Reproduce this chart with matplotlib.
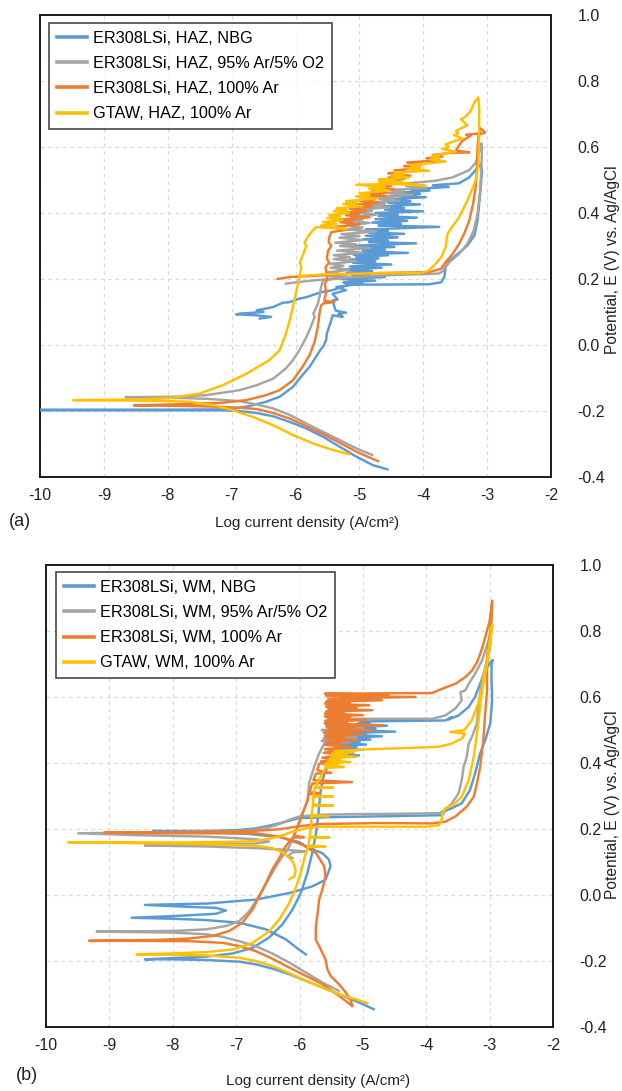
import matplotlib
matplotlib.use("Agg")
import matplotlib.pyplot as plt
from matplotlib.lines import Line2D
from matplotlib.ticker import FixedLocator, FormatStrFormatter

plt.rcParams['font.family'] = ['Liberation Sans', 'DejaVu Sans']
plt.rcParams['axes.unicode_minus'] = False

# ---- polarization scans: (log current density [A/cm2], potential [V vs Ag/AgCl]) ----
# (a) heat affected zone
haz_nbg = [(-4.56,-0.377),(-4.79,-0.364),(-5.05,-0.338),(-5.31,-0.308),(-5.57,-0.278),(-5.83,-0.253),(-6.09,-0.233),(-6.35,-0.216),(-6.61,-0.206),(-6.88,-0.200),(-7.14,-0.198),(-8.5,-0.198),(-10.0,-0.198),
    (-10.0,-0.196),(-8.0,-0.196),(-7.08,-0.195),(-6.77,-0.187),(-6.46,-0.172),(-6.25,-0.157),(-6.04,-0.127),(-5.89,-0.091),(-5.78,-0.066),(-5.68,-0.036),(-5.60,-0.012),(-5.57,-0.006),(-5.52,0.015),(-5.51,0.034),(-5.44,0.075),(-5.42,0.090),(-5.26,0.085),(-5.33,0.094),(-5.21,0.098),(-5.37,0.104),(-5.39,0.115),(-5.42,0.135),(-5.34,0.138),(-5.42,0.155),(-5.21,0.166),(-5.36,0.176),
    (-4.95,0.186),(-5.25,0.190),(-4.75,0.195),(-5.30,0.200),(-4.60,0.206),(-5.10,0.210),(-4.85,0.214),(-5.20,0.219),(-4.80,0.224),(-5.25,0.229),(-4.65,0.234),(-5.15,0.238),(-4.50,0.244),(-5.10,0.249),(-4.75,0.254),(-5.15,0.259),(-4.70,0.263),(-5.05,0.267),(-4.55,0.272),(-5.10,0.275),(-4.24,0.279),(-4.95,0.284),(-4.60,0.288),(-5.00,0.292),(-4.45,0.297),(-5.05,0.301),(-4.11,0.308),(-4.85,0.312),(-4.55,0.316),(-4.95,0.320),(-4.40,0.326),(-4.90,0.331),(-4.30,0.337),(-4.85,0.341),(-4.55,0.346),(-4.90,0.350),(-3.75,0.358),(-4.70,0.362),(-4.35,0.367),(-4.80,0.371),(-4.25,0.376),(-4.75,0.381),(-4.10,0.386),(-4.70,0.391),(-4.40,0.396),(-4.75,0.400),(-4.00,0.405),(-4.60,0.410),(-4.30,0.415),(-4.65,0.420),(-4.05,0.426),(-4.55,0.431),(-4.20,0.436),(-4.55,0.441),(-3.96,0.448),(-4.45,0.452),(-4.05,0.458),(-4.35,0.462),(-3.90,0.468),(-4.20,0.472),(-3.60,0.479),(-3.85,0.484),(-3.44,0.490),(-3.28,0.508),(-3.18,0.53),(-3.10,0.548),
    (-3.08,0.528),(-3.10,0.478),(-3.125,0.427),(-3.15,0.377),(-3.20,0.332),(-3.31,0.301),(-3.46,0.276),(-3.59,0.256),(-3.65,0.236),(-3.67,0.206),(-3.72,0.19),(-3.91,0.184),(-4.69,0.183),(-5.16,0.183),(-5.42,0.166),(-5.60,0.160),(-5.83,0.145),(-5.95,0.140),(-6.09,0.13),(-6.20,0.128),(-6.35,0.115),(-6.61,0.105),(-6.50,0.100),(-6.88,0.095),(-6.93,0.093),(-6.61,0.09),(-6.38,0.085),(-6.56,0.08)]

haz_o2 = [(-4.80,-0.333),(-5.05,-0.313),(-5.31,-0.288),(-5.57,-0.263),(-5.83,-0.238),(-6.09,-0.212),(-6.35,-0.192),(-6.61,-0.180),(-6.88,-0.170),(-7.40,-0.163),(-7.92,-0.160),(-8.66,-0.158),
    (-7.92,-0.157),(-7.40,-0.152),(-6.88,-0.137),(-6.61,-0.122),(-6.35,-0.102),(-6.15,-0.071),(-6.04,-0.046),(-5.94,-0.016),(-5.83,0.024),(-5.76,0.055),(-5.70,0.085),(-5.72,0.095),(-5.65,0.125),(-5.62,0.15),(-5.60,0.175),(-5.57,0.196),
    (-5.21,0.204),(-5.47,0.210),(-5.30,0.215),(-5.50,0.220),(-5.16,0.228),(-5.45,0.234),(-5.25,0.240),(-5.45,0.246),(-5.05,0.254),(-5.40,0.260),(-5.15,0.266),(-5.40,0.272),(-4.95,0.280),(-5.35,0.286),(-4.84,0.294),(-5.30,0.300),(-5.05,0.305),(-5.38,0.310),(-4.95,0.318),(-5.31,0.325),(-5.00,0.330),(-5.28,0.336),(-4.74,0.344),(-5.21,0.350),(-4.95,0.356),(-5.20,0.362),(-4.84,0.370),(-5.16,0.376),(-4.95,0.381),(-5.12,0.387),(-4.74,0.395),(-5.05,0.401),(-4.80,0.406),(-5.00,0.411),(-4.53,0.417),(-4.90,0.423),(-4.60,0.428),(-4.85,0.432),(-4.375,0.437),(-4.69,0.443),(-4.45,0.447),(-4.65,0.451),(-4.17,0.455),(-4.53,0.461),(-4.30,0.466),(-4.50,0.470),(-3.96,0.476),(-4.27,0.482),(-4.10,0.487),(-4.25,0.490),(-4.01,0.494),
    (-3.80,0.498),(-3.54,0.508),(-3.28,0.53),(-3.18,0.552),(-3.125,0.585),(-3.09,0.611),
    (-3.08,0.599),(-3.09,0.538),(-3.11,0.468),(-3.15,0.397),(-3.21,0.347),(-3.31,0.306),(-3.44,0.276),(-3.59,0.251),(-3.66,0.236),(-3.69,0.224),(-3.75,0.217),(-3.91,0.215),(-4.50,0.212),(-5.00,0.207),(-5.50,0.200),(-5.90,0.192),(-6.15,0.186)]

haz_ar = [(-4.71,-0.352),(-5.05,-0.323),(-5.31,-0.296),(-5.57,-0.270),(-5.83,-0.246),(-6.09,-0.223),(-6.35,-0.206),(-6.61,-0.194),(-6.88,-0.190),(-7.40,-0.186),(-8.00,-0.184),(-8.53,-0.183),
    (-7.92,-0.180),(-7.14,-0.175),(-6.77,-0.167),(-6.46,-0.152),(-6.25,-0.137),(-6.04,-0.107),(-5.89,-0.066),(-5.78,-0.031),(-5.70,0.010),(-5.65,0.055),(-5.625,0.095),(-5.60,0.120),(-5.56,0.126),(-5.39,0.130),(-5.55,0.134),(-5.52,0.160),(-5.54,0.185),(-5.50,0.200),(-5.53,0.236),(-5.47,0.250),(-5.51,0.262),(-5.49,0.286),(-5.44,0.300),(-5.48,0.312),(-5.47,0.327),(-5.44,0.342),(-5.21,0.349),(-5.42,0.357),
    (-5.00,0.366),(-5.30,0.372),(-5.10,0.376),(-5.32,0.380),(-4.84,0.387),(-5.21,0.393),(-5.00,0.398),(-5.20,0.402),(-4.90,0.407),(-5.15,0.413),(-4.80,0.420),(-5.05,0.426),(-4.70,0.432),(-5.00,0.437),(-4.75,0.442),(-4.95,0.446),(-4.60,0.452),(-4.85,0.457),(-4.55,0.462),(-4.80,0.467),(-4.45,0.472),(-4.75,0.478),(-4.50,0.483),(-4.70,0.487),(-4.35,0.492),(-4.60,0.498),(-4.30,0.503),(-4.55,0.507),(-4.20,0.513),(-4.55,0.520),(-4.30,0.525),(-4.45,0.529),(-4.06,0.536),(-4.30,0.542),(-4.00,0.548),(-4.25,0.553),(-3.75,0.560),(-3.95,0.566),(-3.70,0.571),(-3.85,0.576),(-3.57,0.582),(-3.28,0.584),(-3.49,0.589),(-3.39,0.619),(-3.26,0.634),(-3.33,0.637),(-3.125,0.641),(-3.10,0.656),(-3.03,0.644),(-3.135,0.637),
    (-3.15,0.599),(-3.16,0.538),(-3.18,0.478),(-3.22,0.427),(-3.28,0.377),(-3.36,0.337),(-3.44,0.306),(-3.54,0.276),(-3.65,0.251),(-3.72,0.231),(-3.91,0.221),(-4.69,0.218),(-5.57,0.211),(-6.09,0.206),(-6.28,0.200)]

haz_gtaw = [(-5.16,-0.331),(-5.42,-0.318),(-5.73,-0.298),(-6.04,-0.273),(-6.35,-0.243),(-6.67,-0.218),(-6.98,-0.198),(-7.29,-0.182),(-7.66,-0.172),(-8.18,-0.169),(-9.48,-0.167),
    (-8.44,-0.165),(-7.92,-0.160),(-7.50,-0.147),(-7.14,-0.122),(-6.77,-0.087),(-6.41,-0.046),(-6.25,-0.016),(-6.15,0.034),(-6.09,0.075),(-6.04,0.115),(-6.02,0.135),(-5.96,0.186),(-5.91,0.236),(-5.93,0.25),(-5.86,0.286),(-5.83,0.30),(-5.86,0.31),(-5.81,0.327),(-5.73,0.347),(-5.68,0.357),
    (-5.21,0.352),(-5.60,0.362),(-5.35,0.367),(-5.57,0.372),(-5.26,0.379),(-5.50,0.385),(-5.30,0.390),(-5.47,0.394),(-5.16,0.400),(-5.40,0.406),(-5.20,0.410),(-5.36,0.414),(-4.95,0.421),(-5.25,0.427),(-5.05,0.432),(-5.21,0.436),(-4.74,0.444),(-5.05,0.450),(-4.85,0.455),(-5.00,0.460),(-4.53,0.468),(-4.85,0.474),(-4.60,0.479),(-5.05,0.486),(-4.22,0.488),(-4.69,0.493),(-3.96,0.482),(-4.50,0.497),(-4.70,0.501),(-4.22,0.508),(-4.50,0.514),(-4.30,0.519),(-4.45,0.523),(-3.91,0.528),(-4.25,0.535),(-4.05,0.540),(-4.20,0.545),(-3.65,0.556),(-3.90,0.563),(-3.75,0.568),(-3.85,0.574),(-3.49,0.586),(-3.70,0.594),(-3.60,0.600),(-3.65,0.608),(-3.39,0.626),(-3.52,0.636),(-3.45,0.642),(-3.49,0.649),(-3.31,0.666),(-3.41,0.684),(-3.35,0.690),(-3.26,0.708),(-3.20,0.735),(-3.14,0.750),
    (-3.125,0.720),(-3.125,0.649),(-3.135,0.548),(-3.18,0.498),(-3.31,0.437),(-3.44,0.387),(-3.57,0.352),(-3.62,0.337),(-3.65,0.296),(-3.72,0.266),(-3.83,0.241),(-3.93,0.224),(-4.06,0.218),(-4.69,0.218),(-5.05,0.216),(-5.57,0.214),(-5.94,0.209)]

# (b) weld metal
wm_nbg = [(-4.83,-0.346),(-5.115,-0.321),(-5.38,-0.300),(-5.64,-0.280),(-5.90,-0.260),(-6.16,-0.240),(-6.43,-0.223),(-6.69,-0.210),(-6.95,-0.202),(-7.47,-0.197),(-8.00,-0.195),(-8.44,-0.195),
    (-8.00,-0.191),(-7.47,-0.187),(-7.05,-0.177),(-6.74,-0.160),(-6.48,-0.129),(-6.27,-0.089),(-6.11,-0.044),(-5.98,0.006),(-5.875,0.067),(-5.80,0.127),(-5.74,0.187),(-5.70,0.248),(-5.68,0.288),(-5.665,0.318),(-5.61,0.368),(-5.53,0.398),(-5.43,0.419),
    (-5.06,0.423),(-5.45,0.428),(-5.15,0.432),(-5.42,0.436),(-5.00,0.440),(-5.40,0.445),(-5.10,0.449),(-5.38,0.452),(-4.95,0.456),(-5.35,0.460),(-5.05,0.464),(-5.32,0.467),(-4.88,0.471),(-5.30,0.476),(-4.70,0.481),(-5.25,0.486),(-4.95,0.489),(-5.22,0.491),(-4.49,0.495),(-5.20,0.500),(-4.80,0.504),(-5.15,0.508),(-4.62,0.513),(-5.10,0.518),(-4.90,0.521),(-5.05,0.523),(-4.96,0.526),
    (-3.70,0.529),(-3.595,0.539),(-3.65,0.532),(-3.49,0.544),(-3.33,0.570),(-3.23,0.600),(-3.15,0.640),(-3.07,0.680),(-2.99,0.705),(-2.95,0.712),(-2.97,0.700),
    (-2.97,0.650),(-2.96,0.590),(-2.99,0.520),(-3.07,0.469),(-3.15,0.429),(-3.23,0.368),(-3.31,0.318),(-3.44,0.278),(-3.595,0.263),(-3.70,0.255),(-3.75,0.242),(-4.50,0.239),(-5.50,0.236),(-6.01,0.233),(-6.22,0.222),(-6.43,0.212),(-6.69,0.202),(-6.95,0.197),(-7.47,0.194),(-8.31,0.194),
    (-7.50,0.190),(-6.80,0.185),(-6.30,0.175),(-6.00,0.160),(-5.85,0.142),(-5.64,0.127),(-5.535,0.107),(-5.51,0.087),(-5.59,0.046),(-5.80,0.026),(-6.16,0.006),(-6.69,-0.014),(-7.47,-0.026),(-8.44,-0.030),
    (-7.74,-0.036),(-7.32,-0.039),(-7.16,-0.047),(-7.32,-0.057),(-8.00,-0.064),(-8.65,-0.069),
    (-8.00,-0.072),(-7.47,-0.076),(-6.95,-0.084),(-6.53,-0.104),(-6.22,-0.134),(-6.01,-0.165),(-5.90,-0.180)]

wm_o2 = [(-5.38,-0.290),(-5.64,-0.265),(-5.90,-0.235),(-6.16,-0.205),(-6.43,-0.177),(-6.69,-0.155),(-6.95,-0.140),(-7.21,-0.127),(-7.47,-0.119),(-8.00,-0.114),(-9.20,-0.111),
    (-8.00,-0.109),(-7.47,-0.104),(-7.16,-0.094),(-6.95,-0.079),(-6.79,-0.049),(-6.69,-0.019),(-6.58,0.016),(-6.48,0.051),(-6.37,0.087),(-6.27,0.117),(-6.19,0.137),(-6.11,0.167),(-6.03,0.207),(-5.95,0.248),(-5.87,0.288),(-5.85,0.338),(-5.77,0.388),(-5.69,0.429),(-5.61,0.459),
    (-5.20,0.463),(-5.65,0.467),(-5.35,0.471),(-5.62,0.474),(-5.10,0.478),(-5.60,0.483),(-5.30,0.488),(-5.62,0.492),(-5.25,0.496),(-5.65,0.500),(-5.00,0.505),(-5.55,0.510),(-5.25,0.515),(-5.60,0.520),(-5.35,0.524),(-5.60,0.528),(-5.48,0.534),
    (-3.91,0.534),(-3.70,0.544),(-3.54,0.565),(-3.44,0.590),(-3.46,0.615),(-3.385,0.620),(-3.33,0.640),(-3.23,0.670),(-3.12,0.710),(-3.07,0.740),(-3.00,0.780),(-2.97,0.820),
    (-3.00,0.746),(-3.12,0.650),(-3.18,0.570),(-3.20,0.520),(-3.28,0.479),(-3.33,0.459),(-3.36,0.419),(-3.41,0.389),(-3.44,0.348),(-3.49,0.308),(-3.595,0.278),(-3.70,0.258),(-3.80,0.248),(-4.50,0.246),(-5.20,0.245),(-5.69,0.243),(-6.00,0.238),(-6.16,0.228),(-6.32,0.215),(-6.48,0.205),(-6.845,0.195),(-7.37,0.192),(-7.89,0.191),(-9.49,0.187),
    (-8.52,0.181),(-7.47,0.177),(-6.69,0.169),(-6.48,0.162),(-6.70,0.156),(-7.50,0.152),(-8.44,0.150),(-7.47,0.147),(-6.69,0.142),(-6.22,0.137),(-5.90,0.132),(-6.11,0.129),(-6.19,0.117),(-6.11,0.112)]

wm_ar = [(-5.17,-0.336),(-5.38,-0.305),(-5.64,-0.270),(-5.90,-0.245),(-6.16,-0.220),(-6.43,-0.193),(-6.69,-0.170),(-6.95,-0.155),(-7.21,-0.145),(-7.74,-0.140),(-8.50,-0.139),(-9.32,-0.139),
    (-8.26,-0.136),(-7.74,-0.132),(-7.37,-0.124),(-7.11,-0.109),(-6.90,-0.084),(-6.74,-0.044),(-6.635,-0.004),(-6.53,0.036),(-6.43,0.077),(-6.32,0.112),(-6.22,0.147),(-6.11,0.174),(-5.93,0.175),(-6.09,0.180),(-6.01,0.218),(-5.93,0.258),(-5.87,0.288),(-5.86,0.305),(-5.69,0.308),(-5.84,0.312),(-5.80,0.338),(-5.17,0.342),(-5.78,0.348),(-5.74,0.368),(-5.50,0.370),(-5.72,0.378),(-5.69,0.398),
    (-5.45,0.400),(-5.66,0.405),(-5.40,0.410),(-5.64,0.416),(-5.30,0.425),(-5.62,0.431),(-5.40,0.437),(-5.60,0.442),(-5.20,0.449),(-5.60,0.455),(-5.35,0.460),(-5.58,0.464),(-5.10,0.469),(-5.58,0.475),(-5.30,0.479),(-5.60,0.482),(-5.00,0.486),(-5.60,0.490),(-5.20,0.494),(-5.58,0.496),(-4.85,0.499),(-5.55,0.505),(-5.15,0.509),(-5.58,0.511),(-4.70,0.514),(-5.60,0.520),(-5.25,0.524),(-5.58,0.526),(-4.95,0.530),(-5.55,0.535),(-5.20,0.539),(-5.60,0.541),(-5.00,0.545),(-5.60,0.550),(-5.30,0.554),(-5.58,0.556),(-4.85,0.560),(-5.55,0.565),(-5.10,0.569),(-5.58,0.571),(-4.90,0.575),(-5.60,0.580),(-5.20,0.584),(-5.58,0.586),(-4.70,0.590),(-5.55,0.595),(-4.17,0.600),(-5.58,0.604),(-4.60,0.607),(-5.60,0.610),
    (-3.91,0.612),(-3.75,0.625),(-3.54,0.640),(-3.385,0.660),(-3.28,0.680),(-3.20,0.705),(-3.15,0.730),(-3.10,0.760),(-3.00,0.830),(-2.96,0.892),
    (-2.97,0.832),(-3.04,0.724),(-3.04,0.620),(-3.07,0.550),(-3.10,0.469),(-3.15,0.388),(-3.20,0.338),(-3.25,0.298),(-3.36,0.268),(-3.54,0.238),(-3.70,0.222),(-3.91,0.217),(-4.75,0.218),(-5.69,0.215),(-6.06,0.207),(-6.32,0.199),(-6.845,0.193),(-7.89,0.190),(-9.07,0.190),
    (-8.52,0.187),(-6.69,0.187),(-6.32,0.177),(-5.95,0.152),(-5.74,0.127),(-5.61,0.087),(-5.59,0.056),(-5.64,0.016),(-5.69,-0.014),(-5.72,-0.064),(-5.74,-0.094),(-5.745,-0.135),(-5.69,-0.155),(-5.64,-0.175),(-5.59,-0.195),(-5.56,-0.225),(-5.51,-0.245),(-5.38,-0.270),(-5.27,-0.295),(-5.19,-0.320),(-5.17,-0.336)]

wm_gtaw = [(-4.93,-0.328),(-5.115,-0.316),(-5.38,-0.300),(-5.64,-0.280),(-5.90,-0.260),(-6.16,-0.237),(-6.43,-0.215),(-6.69,-0.200),(-6.95,-0.190),(-7.47,-0.183),(-8.00,-0.181),(-8.57,-0.180),
    (-8.00,-0.177),(-7.47,-0.173),(-7.05,-0.165),(-6.74,-0.145),(-6.48,-0.110),(-6.32,-0.074),(-6.16,-0.024),(-6.06,0.021),(-5.98,0.067),(-5.93,0.107),(-5.875,0.140),(-5.86,0.146),(-5.59,0.147),(-5.86,0.150),(-5.84,0.173),(-5.53,0.174),(-5.84,0.177),(-5.82,0.205),(-5.81,0.238),(-5.54,0.239),(-5.81,0.242),(-5.79,0.270),(-5.47,0.271),(-5.79,0.274),(-5.78,0.297),(-5.47,0.298),(-5.78,0.301),(-5.76,0.324),(-5.47,0.325),(-5.75,0.328),(-5.69,0.350),(-5.64,0.368),(-5.59,0.385),
    (-5.30,0.388),(-5.60,0.392),(-5.40,0.396),(-5.58,0.399),(-5.20,0.403),(-5.55,0.408),(-5.35,0.412),(-5.52,0.415),(-5.10,0.419),(-5.50,0.424),(-5.25,0.427),(-5.48,0.430),(-5.15,0.433),(-5.45,0.436),(-4.96,0.441),
    (-3.80,0.449),(-3.595,0.459),(-3.44,0.474),(-3.385,0.489),(-3.62,0.494),(-3.40,0.500),(-3.28,0.530),(-3.18,0.580),(-3.10,0.640),(-3.04,0.700),(-2.99,0.760),(-2.96,0.820),
    (-3.00,0.770),(-3.04,0.710),(-3.10,0.650),(-3.15,0.570),(-3.20,0.489),(-3.25,0.419),(-3.33,0.348),(-3.44,0.298),(-3.57,0.273),(-3.70,0.263),(-3.75,0.243),(-3.76,0.222),(-3.80,0.212),(-4.00,0.207),(-5.00,0.207),(-5.69,0.207),(-5.90,0.202),(-6.11,0.192),(-6.32,0.177),(-6.58,0.167),(-6.845,0.162),(-7.89,0.159),(-9.65,0.160),
    (-8.52,0.157),(-7.47,0.154),(-6.69,0.149),(-6.43,0.142),(-6.24,0.127),(-6.11,0.102),(-6.06,0.077),(-6.08,0.057),(-6.16,0.047)]

labels_a = ["ER308LSi, HAZ, NBG", "ER308LSi, HAZ, 95% Ar/5% O2", "ER308LSi, HAZ, 100% Ar", "GTAW, HAZ, 100% Ar"]
labels_b = ["ER308LSi, WM, NBG", "ER308LSi, WM, 95% Ar/5% O2", "ER308LSi, WM, 100% Ar", "GTAW, WM, 100% Ar"]
colors = ["#5B9BD5", "#A5A5A5", "#ED7D31", "#FFC000"]
x_ticks = [-10, -9, -8, -7, -6, -5, -4, -3, -2]
y_ticks = [-0.4, -0.2, 0.0, 0.2, 0.4, 0.6, 0.8, 1.0]

W, H = 622, 1091
fig = plt.figure(figsize=(W / 100, H / 100), dpi=100)


def px_axes(l, t, r, b):
    return fig.add_axes([l / W, 1 - b / H, (r - l) / W, (b - t) / H])


def draw_panel(ax, curves, labels, legend_anchor):
    for data, c in zip(curves, colors):
        xs, ys = zip(*data)
        ax.plot(xs, ys, color=c, lw=1.75, solid_joinstyle='round', zorder=3)
    ax.set_xlim(-10, -2)
    ax.set_ylim(-0.4, 1.0)
    ax.xaxis.set_major_locator(FixedLocator(x_ticks))
    ax.yaxis.set_major_locator(FixedLocator(y_ticks))
    ax.yaxis.set_major_formatter(FormatStrFormatter('%.1f'))
    ax.yaxis.tick_right()
    ax.tick_params(axis='both', length=0, labelsize=11.5, colors='#222222')
    ax.tick_params(axis='x', pad=8)
    ax.tick_params(axis='y', pad=19)
    ax.grid(True, color='#D9D9D9', lw=0.9, linestyle=(0, (3, 3)), zorder=0)
    for s in ax.spines.values():
        s.set_color('#1a1a1a')
        s.set_linewidth(1.4)
    handles = [Line2D([], [], color=c, lw=2.6) for c in colors]
    leg = ax.legend(handles, labels, loc='upper left', bbox_to_anchor=legend_anchor,
                    borderaxespad=0, fontsize=11.7, frameon=True, fancybox=False,
                    edgecolor='#1a1a1a', handlelength=1.85, handletextpad=0.35,
                    labelspacing=0.62, borderpad=0.5)
    leg.get_frame().set_linewidth(1.2)
    leg.set_zorder(5)


ax_a = px_axes(40, 15, 551, 477)
draw_panel(ax_a, [haz_nbg, haz_o2, haz_ar, haz_gtaw], labels_a, (0.017, 0.983))
ax_b = px_axes(46, 565, 553, 1027)
draw_panel(ax_b, [wm_nbg, wm_o2, wm_ar, wm_gtaw], labels_b, (0.019, 0.985))

ylab = "Potential, E (V) vs. Ag/AgCl"
xlab = "Log current density (A/cm\u00b2)"
fig.text(612 / W, 1 - 260 / H, ylab, rotation=90, ha='center', va='center', fontsize=11.2, color='#222222')
fig.text(612 / W, 1 - 805 / H, ylab, rotation=90, ha='center', va='center', fontsize=11.2, color='#222222')
fig.text(307 / W, 1 - 523 / H, xlab, ha='center', va='center', fontsize=11, color='#222222')
fig.text(318 / W, 1 - 1081 / H, xlab, ha='center', va='center', fontsize=11, color='#222222')
fig.text(20 / W, 1 - 522 / H, "(a)", ha='center', va='center', fontsize=13, color='#222222')
fig.text(27 / W, 1 - 1076 / H, "(b)", ha='center', va='center', fontsize=13, color='#222222')

fig.savefig("out.png", dpi=100)
